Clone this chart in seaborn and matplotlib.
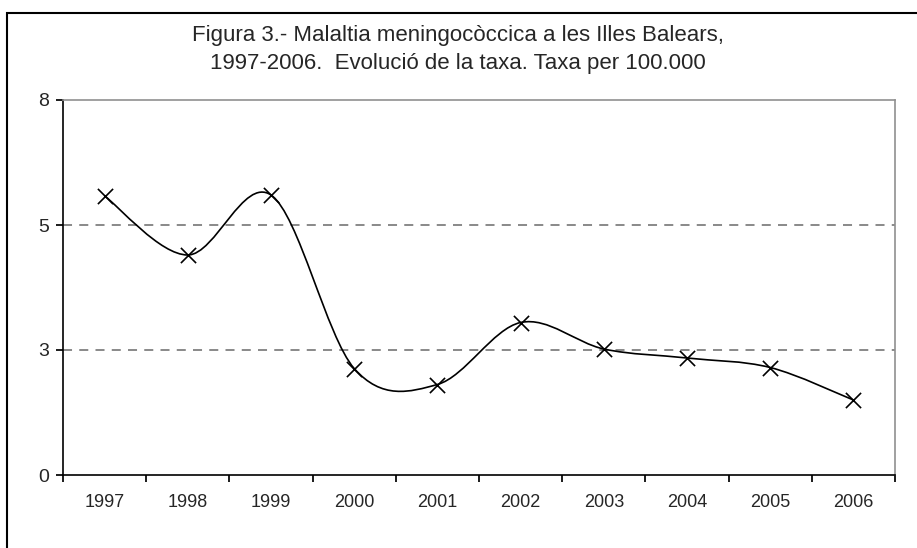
import numpy as np
import matplotlib
matplotlib.use("Agg")
import matplotlib.pyplot as plt
from matplotlib.path import Path
from matplotlib.patches import PathPatch, Rectangle
import seaborn as sns

# dades llegides de la figura
anys = ["1997", "1998", "1999", "2000", "2001", "2002", "2003", "2004", "2005", "2006"]
taxa = [5.58, 4.40, 5.60, 2.13, 1.81, 3.05, 2.52, 2.34, 2.15, 1.50]
y_ticks = [0, 2.5, 5, 7.5]
y_labels = ["0", "3", "5", "8"]

sns.set_theme(style="white")
plt.rcParams["font.family"] = ["Liberation Sans", "DejaVu Sans"]

fig = plt.figure(figsize=(9.17, 5.48), dpi=100)
ax = fig.add_axes([63 / 917, 73 / 548, 832 / 917, 375 / 548])

pos = np.arange(len(anys))
vals = np.array(taxa)

# línia suavitzada (Catmull-Rom com a Excel)
p = np.column_stack([pos, vals])
ext = np.vstack([p[0], p, p[-1]])
verts = [tuple(p[0])]
codes = [Path.MOVETO]
for i in range(1, len(ext) - 2):
    p0, p1, p2, p3 = ext[i - 1], ext[i], ext[i + 1], ext[i + 2]
    c1 = p1 + (p2 - p0) / 6
    c2 = p2 - (p3 - p1) / 6
    verts += [tuple(c1), tuple(c2), tuple(p2)]
    codes += [Path.CURVE4] * 3
ax.add_patch(PathPatch(Path(verts, codes), facecolor="none", edgecolor="black", lw=1.2, zorder=3))

sns.scatterplot(x=pos, y=vals, marker="x", s=120, color="black", linewidth=1.2, ax=ax, zorder=4)

for y in [2.5, 5]:
    ax.axhline(y, color="#808080", ls=(0, (5, 4)), lw=1.3, zorder=1)

ax.set_xlim(-0.5, 9.5)
ax.set_ylim(0, 7.5)
ax.set_yticks(y_ticks)
ax.set_yticklabels(y_labels)
ax.set_xticks(np.arange(-0.5, 10, 1))
ax.set_xticklabels([])
ax.set_xticks(pos, minor=True)
ax.set_xticklabels(anys, minor=True)
ax.tick_params(axis="x", which="major", length=5, direction="out", bottom=True, color="black")
ax.tick_params(axis="x", which="minor", length=0, pad=14, labelsize=13)
ax.tick_params(axis="y", length=5, direction="out", left=True, color="black", pad=5, labelsize=14)

for s in ["left", "bottom"]:
    ax.spines[s].set_color("black")
    ax.spines[s].set_linewidth(1.2)
for s in ["top", "right"]:
    ax.spines[s].set_color("#909090")
    ax.spines[s].set_linewidth(1.2)

fig.text(458 / 917, 1 - 36 / 548, "Figura 3.- Malaltia meningocòccica a les Illes Balears,",
         ha="center", va="center", fontsize=16)
fig.text(458 / 917, 1 - 64 / 548, "1997-2006.  Evolució de la taxa. Taxa per 100.000",
         ha="center", va="center", fontsize=16)

fig.patches.append(Rectangle((7 / 917, -0.1), 1.2, 1 - 13 / 548 + 0.1, transform=fig.transFigure,
                             fill=False, edgecolor="black", lw=1.5))

fig.savefig("out.png", dpi=100)
